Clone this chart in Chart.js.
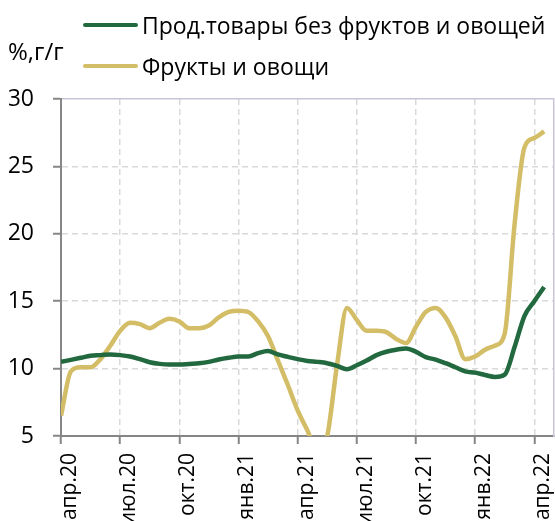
<!DOCTYPE html>
<html>
<head>
<meta charset="utf-8">
<script src="https://cdn.jsdelivr.net/npm/chart.js@4"></script>
<style>
    html, body { margin: 0; padding: 0; overflow: hidden; background: #fff; }
    #wrap { position: relative; width: 555px; height: 521px; overflow: hidden; }
    #box { position: absolute; left: 0; top: 0; width: 555px; height: 540px; }
    .unit { position: absolute; left: 8px; top: 37px; font: 24px 'Open Sans'; color: #000; line-height: 28px; }
    .leg { position: absolute; left: 83px; height: 28px; display: flex; align-items: center;
           font: 23px 'Open Sans'; color: #000; white-space: nowrap; }
    .leg i { display: inline-block; width: 55px; height: 4px; border-radius: 2px; margin-right: 4px; }
</style>
</head>
<body>
<div id="wrap">
    <div id="box"><canvas id="foodChart"></canvas></div>
    <div class="unit">%,г/г</div>
    <div class="leg" style="top:11px"><i style="background:#22693f"></i>Прод.товары без фруктов и овощей</div>
    <div class="leg" style="top:52px"><i style="background:#d3bd66"></i>Фрукты и овощи</div>
</div>
<script>
// months since apr.20, half-month steps
const months = [0, 0.5, 1, 1.5, 2, 2.5, 3, 3.5, 4, 4.5, 5, 5.5, 6, 6.5, 7, 7.5, 8, 8.5, 9, 9.5,
    10, 10.5, 11, 11.5, 12, 12.5, 13, 13.5, 14, 14.5, 15, 15.5, 16, 16.5, 17, 17.5, 18, 18.5, 19, 19.5,
    20, 20.5, 21, 21.5, 22, 22.5, 23, 23.5, 24, 24.5];

// Прод.товары без фруктов и овощей
const food_ex = [10.5, 10.65, 10.8, 10.95, 11.0, 11.05, 11.0, 10.9, 10.7, 10.47,
    10.35, 10.3, 10.3, 10.35, 10.4, 10.5, 10.67, 10.8, 10.9, 10.9,
    11.15, 11.3, 11.05, 10.87, 10.7, 10.57, 10.5, 10.4, 10.2, 9.95,
    10.25, 10.6, 11.0, 11.25, 11.4, 11.5, 11.25, 10.85, 10.67, 10.4,
    10.1, 9.8, 9.7, 9.53, 9.38, 9.55, 11.6, 13.9, 15.0, 16.05];

// Фрукты и овощи
const fruit_veg = [6.5, 9.8, 10.1, 10.1, 10.7, 11.7, 12.8, 13.4, 13.3, 13.0,
    13.4, 13.7, 13.5, 13.0, 13.0, 13.2, 13.8, 14.2, 14.3, 14.2,
    13.5, 12.4, 10.6, 8.8, 6.9, 5.4, 3.8, 5.0, 10.3, 14.5,
    13.6, 12.8, 12.8, 12.7, 12.2, 11.9, 13.1, 14.2, 14.5, 13.8,
    12.4, 10.7, 10.9, 11.4, 11.7, 12.6, 20.7, 26.4, 27.1, 27.6];

// x-axis ticks (every quarter)
const tick_pos = [0, 3, 6, 9, 12, 15, 18, 21, 24];
const tick_labels = ['апр.20', 'июл.20', 'окт.20', 'янв.21', 'апр.21', 'июл.21', 'окт.21', 'янв.22', 'апр.22'];

var color_green = '#22693f';
var color_yellow = '#d3bd66';
var grid_color = '#d9d9d9';
var axis_color = '#868686';
var frame_color = '#cbc3d6';

const toXY = (arr) => arr.map((v, i) => ({ x: months[i], y: v }));

// fix the plot box: no extra label overhang padding from the scales
const noPad = (scale) => {
    scale.paddingLeft = 0;
    scale.paddingRight = 0;
    scale.paddingTop = 0;
    scale.paddingBottom = 0;
};

const config = {
    type: 'line',
    data: {
        datasets: [{
            label: 'Прод.товары без фруктов и овощей',
            data: toXY(food_ex),
            borderColor: color_green,
            borderWidth: 4.5,
            pointRadius: 0,
            cubicInterpolationMode: 'monotone',
        },
        {
            label: 'Фрукты и овощи',
            data: toXY(fruit_veg),
            borderColor: color_yellow,
            borderWidth: 4.5,
            pointRadius: 0,
            cubicInterpolationMode: 'monotone',
        }]
    },
    options: {
        responsive: true,
        maintainAspectRatio: false,
        animation: false,
        layout: { padding: { top: 99, left: 9, right: 1, bottom: 0 } },
        plugins: {
            legend: { display: false },
            tooltip: { enabled: false }
        },
        scales: {
            x: {
                type: 'linear',
                min: 0,
                max: 25,
                afterBuildTicks: (scale) => { scale.ticks = tick_pos.map(v => ({ value: v })); },
                afterFit: (scale) => { scale.height = 104; noPad(scale); },
                grid: {
                    color: grid_color,
                    lineWidth: 1.5,
                    tickLength: 8,
                    tickColor: axis_color,
                    tickWidth: 2,
                },
                border: {
                    display: true,
                    color: axis_color,
                    width: 2,
                    dash: [6, 4],
                },
                ticks: {
                    autoSkip: false,
                    minRotation: 90,
                    maxRotation: 90,
                    labelOffset: 9,
                    padding: 9,
                    color: '#000',
                    font: { size: 21, family: 'Open Sans' },
                    callback: (value) => tick_labels[tick_pos.indexOf(value)] || '',
                }
            },
            y: {
                min: 5,
                max: 30,
                afterFit: (scale) => { scale.width = 52; noPad(scale); },
                ticks: {
                    stepSize: 5,
                    padding: 19,
                    color: '#000',
                    font: { size: 23, family: 'Open Sans' },
                },
                grid: {
                    color: (ctx) => ctx.tick && ctx.tick.value === 30 ? frame_color : grid_color,
                    lineWidth: 1.5,
                    tickLength: 8,
                    tickColor: axis_color,
                    tickWidth: 2,
                },
                border: {
                    display: true,
                    color: axis_color,
                    width: 2,
                    dash: (ctx) => ctx.tick && ctx.tick.value === 30 ? [] : [6, 4],
                }
            },
            // right frame of the plot area
            yr: {
                position: 'right',
                min: 5,
                max: 30,
                afterFit: (scale) => { scale.width = 0; noPad(scale); },
                grid: { display: false },
                ticks: { display: false },
                border: { display: true, color: frame_color, width: 1.5 }
            }
        }
    }
};

document.addEventListener('DOMContentLoaded', function () {
    const ctx = document.getElementById('foodChart').getContext('2d');
    new Chart(ctx, config);
});
</script>
</body>
</html>
